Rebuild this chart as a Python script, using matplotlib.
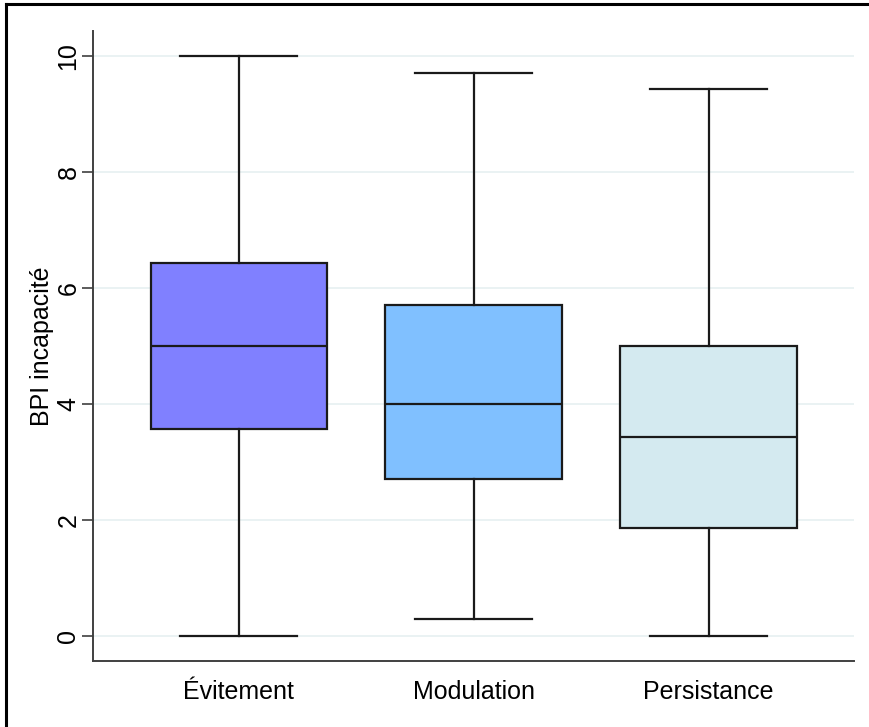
"""
Boîtes à moustaches du score BPI incapacité selon le profil
(Évitement / Modulation / Persistance), style Stata.
"""

import matplotlib
matplotlib.use("Agg")
import matplotlib.pyplot as plt
from matplotlib.lines import Line2D

# Résumés en cinq valeurs par groupe
groups = ["Évitement", "Modulation", "Persistance"]
whisk_low = [0.0, 0.29, 0.0]
q1 = [3.57, 2.71, 1.86]
median = [5.0, 4.0, 3.43]
q3 = [6.43, 5.71, 5.0]
whisk_high = [10.0, 9.71, 9.43]
box_colors = ["#8080ff", "#80c0ff", "#d4eaf0"]
y_ticks = [0, 2, 4, 6, 8, 10]

plt.rcParams["font.family"] = ["Liberation Sans", "DejaVu Sans"]

fig = plt.figure(figsize=(8.69, 7.27), dpi=100)
ax = fig.add_axes([0.107, 0.091, 0.876, 0.866])

stats = [
    {"label": g, "whislo": lo, "q1": a, "med": m, "q3": b, "whishi": hi,
     "fliers": []}
    for g, lo, a, m, b, hi in zip(groups, whisk_low, q1, median, q3, whisk_high)
]
positions = list(range(1, len(groups) + 1))
bp = ax.bxp(stats, positions=positions, widths=0.75, patch_artist=True,
            showfliers=False,
            boxprops=dict(linewidth=1.6, edgecolor="#1a1a1a"),
            medianprops=dict(linewidth=1.6, color="#1a1a1a"),
            whiskerprops=dict(linewidth=1.6, color="#1a1a1a"),
            capprops=dict(linewidth=1.6, color="#1a1a1a"),
            capwidths=0.5)
for patch, c in zip(bp["boxes"], box_colors):
    patch.set_facecolor(c)

ax.set_xlim(0.38, 3.62)
ax.set_ylim(-0.43, 10.43)
ax.set_yticks(y_ticks)
ax.set_yticklabels([str(t) for t in y_ticks], rotation=90, va="center")
ax.set_xticks(positions)
ax.set_xticklabels(groups)
ax.tick_params(axis="x", length=0, pad=14, labelsize=18)
ax.tick_params(axis="y", length=8, width=1.2, color="#404040", pad=1,
               labelsize=18)
ax.set_ylabel("BPI incapacité", fontsize=18, labelpad=2)

ax.yaxis.grid(True, color="#eaf2f3", linewidth=1.4)
ax.set_axisbelow(True)
for side in ("top", "right"):
    ax.spines[side].set_visible(False)
for side in ("left", "bottom"):
    ax.spines[side].set_color("#404040")
    ax.spines[side].set_linewidth(1.4)

# Cadre extérieur (bords gauche et haut)
fig.add_artist(Line2D([6 / 869, 6 / 869], [0, 1 - 4 / 727],
                      transform=fig.transFigure, color="black", linewidth=2.2))
fig.add_artist(Line2D([6 / 869, 1], [1 - 4 / 727, 1 - 4 / 727],
                      transform=fig.transFigure, color="black", linewidth=2.2))

fig.savefig("out.png", dpi=100)
